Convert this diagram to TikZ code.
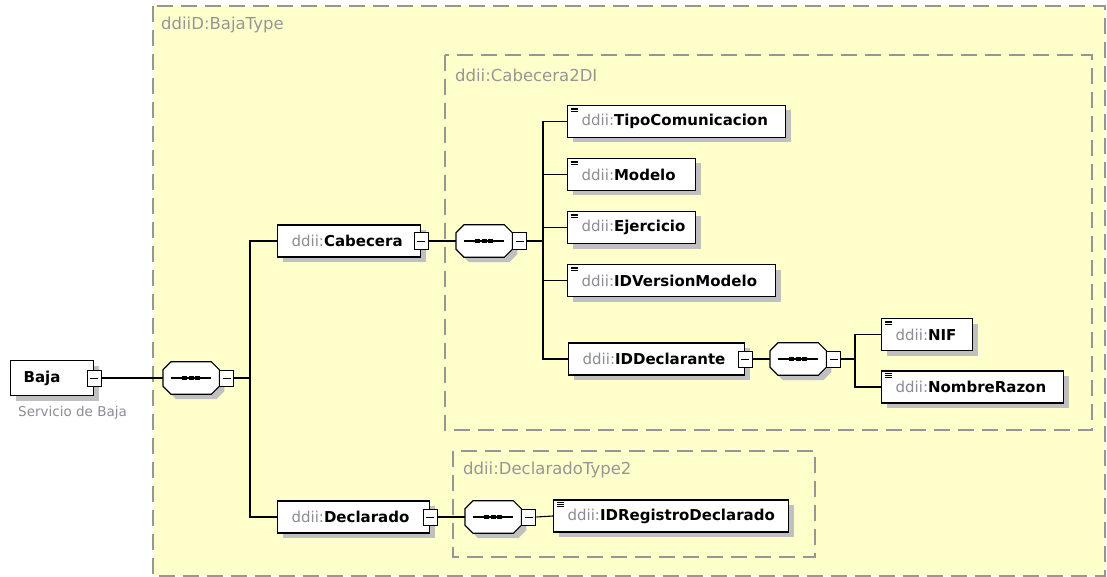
\documentclass[tikz,border=0pt]{standalone}
\usepackage{fontspec}
\setmainfont{DejaVu Sans}
\usetikzlibrary{shadows,positioning}
\definecolor{bgyellow}{RGB}{255,255,204}
\definecolor{boxgray}{RGB}{150,150,150}
\definecolor{shadowgray}{RGB}{192,192,192}
\definecolor{pregray}{RGB}{140,140,150}
\newcommand{\pre}{\textcolor{pregray}{ddii:}}
% octagon round a node, shifted by (#2,#3)
\newcommand{\octpath}[3]{([shift={(#2+8,#3)}]#1.north west) -- ([shift={(#2-8,#3)}]#1.north east)
  -- ([shift={(#2,#3+8)}]#1.north east) -- ([shift={(#2,#3-8)}]#1.south east)
  -- ([shift={(#2-8,#3)}]#1.south east) -- ([shift={(#2+8,#3)}]#1.south west)
  -- ([shift={(#2,#3-8)}]#1.south west) -- ([shift={(#2,#3+8)}]#1.north west) -- cycle}
\newcommand{\seqnode}[2]{%
  \node[seqbase] (#1) at (#2) {};
  \fill[shadowgray] \octpath{#1}{5}{5};
  \filldraw[fill=white, line width=1.2pt] \octpath{#1}{0}{0};
  \draw[line width=1.1pt] ([xshift=8pt]#1.west) -- ([xshift=-8pt]#1.east);
  \foreach \dx in {-6.5,0,6.5}
    \fill ([xshift=\dx pt]#1.center) +(-2.5,-2.2) rectangle +(2.5,2.2);
}

\tikzset{
  elem/.style={draw, line width=1.2pt, fill=white, anchor=west, minimum height=32pt,
    inner xsep=14pt, inner ysep=0pt, align=left, font=\fontsize{15}{18}\selectfont,
    drop shadow={shadow xshift=5pt, shadow yshift=-5pt, fill=shadowgray, opacity=1}},
  simple/.style={path picture={
    \foreach \k in {0,1,2}
      \draw[line width=0.9pt] ([xshift=3.5pt,yshift={-2.5pt-1.8pt*\k}]path picture bounding box.north west) -- ++(7,0);}},
  minus/.style={draw, line width=1pt, fill=white, minimum width=14pt, minimum height=16pt,
    inner sep=0pt, path picture={
    \draw[line width=1pt] ([xshift=3pt]path picture bounding box.west) -- ([xshift=-3pt]path picture bounding box.east);}},
  seqbase/.style={minimum width=56pt, minimum height=32pt, inner sep=0pt, anchor=west},
  conn/.style={line width=1.1pt},
  grouplbl/.style={anchor=west, text=boxgray, font=\fontsize{16.5}{19}\selectfont, inner sep=0pt},
  groupbox/.style={draw=boxgray, line width=1.3pt, dash pattern=on 16pt off 8pt},
}

\begin{document}
\begin{tikzpicture}[x=1pt, y=-1pt]
\useasboundingbox (0,0) rectangle (1107,577);
% type groups
\fill[bgyellow] (153,6) rectangle (1105,576);
\draw[groupbox] (153,6) rectangle (1105,576);
\node[grouplbl] (lblBaja) at (161,25) {ddiiD:BajaType};
\draw[groupbox] (445,55) rectangle (1092,430);
\node[grouplbl] (lblCab) at (455,75) {ddii:Cabecera2DI};
\draw[groupbox] (453,451) rectangle (815,557);
\node[grouplbl] (lblDecl) at (463,470) {ddii:DeclaradoType2};

% root element
\node[elem, text width=57pt, inner xsep=13pt, minimum height=35pt,
  font=\fontsize{15}{18}\selectfont\bfseries] (baja) at (10,378) {Baja};
\node[minus] (bajaMin) at (baja.east) {};
\node[anchor=west, text=pregray, font=\fontsize{13.5}{16}\selectfont, inner sep=0pt] (bajaDoc) at (18,413) {Servicio de Baja};

\seqnode{seq1}{163,378}
\node[minus, anchor=west] (seq1Min) at (seq1.east) {};
\coordinate (t1) at (250,378);

% Cabecera and Declarado
\node[elem, text width=115pt] (cab) at (277,241) {\pre\textbf{Cabecera}};
\node[minus] (cabMin) at (cab.east) {};
\node[elem, text width=124pt] (decl) at (277,517) {\pre\textbf{Declarado}};
\node[minus] (declMin) at (decl.east) {};

\seqnode{seq2}{456,241}
\node[minus, anchor=west] (seq2Min) at (seq2.east) {};
\coordinate (t2) at (543,241);

\node[elem, simple, text width=190pt] (tipo) at (567,121.5) {\pre\textbf{TipoComunicacion}};
\node[elem, simple, text width=100pt] (modelo) at (567,174.5) {\pre\textbf{Modelo}};
\node[elem, simple, text width=100pt] (ejercicio) at (567,227.5) {\pre\textbf{Ejercicio}};
\node[elem, simple, text width=180pt] (idver) at (567,280.5) {\pre\textbf{IDVersionModelo}};
\node[elem, text width=148pt] (iddecl) at (568,359) {\pre\textbf{IDDeclarante}};
\node[minus] (iddeclMin) at (iddecl.east) {};

\seqnode{seq3}{770,359}
\node[minus, anchor=west] (seq3Min) at (seq3.east) {};
\coordinate (t3) at (855,359);

\node[elem, simple, text width=63pt] (nif) at (881,334.5) {\pre\textbf{NIF}};
\node[elem, simple, text width=154pt] (nombre) at (881,387) {\pre\textbf{NombreRazon}};

\seqnode{seq4}{465,517}
\node[minus, anchor=west] (seq4Min) at (seq4.east) {};
\node[elem, simple, text width=207pt] (idreg) at (553,516) {\pre\textbf{IDRegistroDeclarado}};

% connectors
\draw[conn] (bajaMin.east) -- (seq1.west);
\draw[conn] (seq1Min.east) -- (t1);
\draw[conn] (cab.west) -| (t1) |- (decl.west);
\draw[conn] (cabMin.east) -- (seq2.west);
\draw[conn] (seq2Min.east) -- (t2);
\foreach \n in {tipo,modelo,ejercicio,idver,iddecl}
  \draw[conn] (t2) |- (\n.west);
\draw[conn] (iddeclMin.east) -- (seq3.west);
\draw[conn] (seq3Min.east) -- (t3);
\foreach \n in {nif,nombre}
  \draw[conn] (t3) |- (\n.west);
\draw[conn] (declMin.east) -- (seq4.west);
\draw[conn] (seq4Min.east) -- (idreg.west);
\end{tikzpicture}
\end{document}
